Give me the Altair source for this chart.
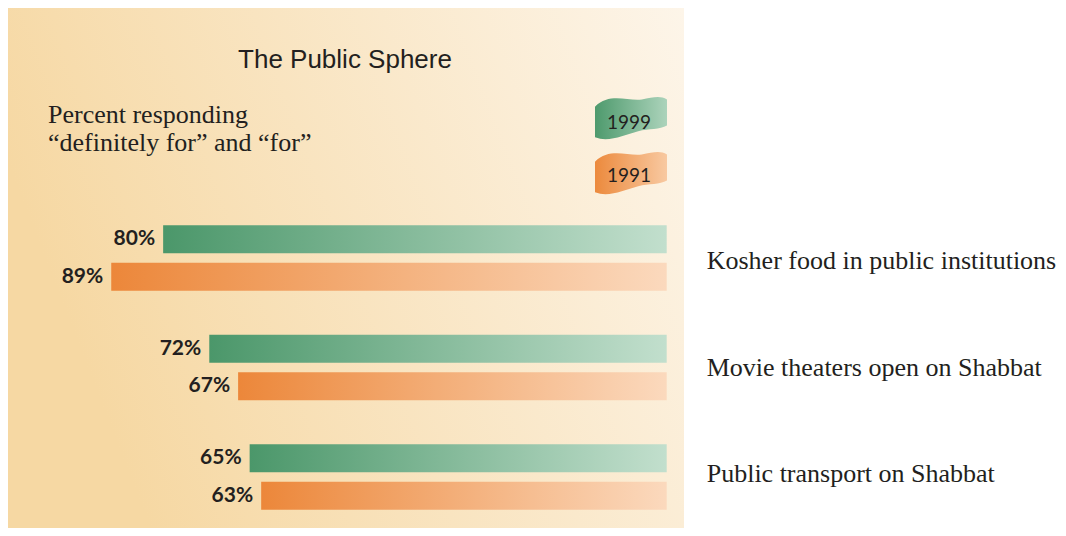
import altair as alt
import pandas as pd

categories = ["Kosher food in public institutions",
              "Movie theaters open on Shabbat",
              "Public transport on Shabbat"]
years = ["1999", "1991"]
values_1999 = [80, 72, 65]
values_1991 = [89, 67, 63]
bar_base = -7.32
title_text = "The Public Sphere"
subtitle_text = "Percent responding\n\u201cdefinitely for\u201d and \u201cfor\u201d"

rows = []
for c, a, b in zip(categories, values_1999, values_1991):
    rows.append({"category": c, "year": "1999", "value": a, "label": f"{a}%"})
    rows.append({"category": c, "year": "1991", "value": b, "label": f"{b}%"})
df = pd.DataFrame(rows)
df_cat = pd.DataFrame({"category": categories})
df_one = pd.DataFrame({"k": [0]})


def grad(c1, c2, x1=0, x2=1, y1=0, y2=0):
    return alt.Gradient(gradient="linear",
                        stops=[alt.GradientStop(color=c1, offset=0),
                               alt.GradientStop(color=c2, offset=1)],
                        x1=x1, x2=x2, y1=y1, y2=y2)


W, H = 1050, 520
xscale = alt.Scale(domain=[bar_base, 100], range=[658.7, 39.8])
yscale = alt.Scale(domain=categories, range=[195.2, 523.7], paddingInner=0, paddingOuter=0)
yoff = alt.Scale(domain=years, range=[22, 87.6], paddingInner=0.255, paddingOuter=0)

X = alt.X("value:Q", scale=xscale, axis=None)
X2 = alt.X2(datum=bar_base)
Y = alt.Y("category:N", scale=yscale, axis=None, sort=categories)
YO = alt.YOffset("year:N", scale=yoff, sort=years)

panel = alt.Chart(df_one).mark_rect(fill=grad("#f6d8a3", "#fdf5e9", 0, 1, 0.3, 0)).encode(
    x=alt.value(0), x2=alt.value(676), y=alt.value(0), y2=alt.value(H)
)

green_bars = alt.Chart(df).transform_filter(alt.datum.year == "1999").mark_bar(
    fill=grad("#4b976a", "#c2dfcd")
).encode(x=X, x2=X2, y=Y, yOffset=YO)

orange_bars = alt.Chart(df).transform_filter(alt.datum.year == "1991").mark_bar(
    fill=grad("#ec873a", "#fbd9bd")
).encode(x=X, x2=X2, y=Y, yOffset=YO)

value_labels = alt.Chart(df).mark_text(
    align="right", baseline="middle", dx=-8, font="Lato", fontWeight="bold",
    fontSize=21, color="#231f20"
).encode(x=X, y=Y, yOffset=YO, text="label:N")

cat_labels = alt.Chart(df_cat).mark_text(
    align="left", baseline="alphabetic", font="Liberation Serif",
    fontSize=26, color="#231f20"
).encode(
    x=alt.value(698.7),
    y=alt.Y("category:N", sort=categories, axis=None,
            scale=alt.Scale(domain=categories, type="point", range=[261.3, 474.3], padding=0)),
    text="category:N",
)

title = alt.Chart(df_one).mark_text(
    align="center", baseline="alphabetic", font="Liberation Sans", fontSize=26,
    color="#231f20", text=title_text
).encode(x=alt.value(337), y=alt.value(60.3))

subtitle = alt.Chart(df_one).mark_text(
    align="left", baseline="alphabetic", font="Liberation Serif", fontSize=26,
    color="#231f20", text=subtitle_text, lineBreak="\n", lineHeight=28
).encode(x=alt.value(40), y=alt.value(115))

flag_path = ("M -1,-0.3 C -0.6,-0.7 -0.1,-0.45 0.3,-0.5 C 0.6,-0.55 0.8,-0.62 1,-0.5 "
             "L 1,0.22 C 0.8,0.34 0.5,0.3 0.2,0.38 C -0.2,0.48 -0.6,0.7 -1,0.55 Z")

flag_1999 = alt.Chart(df_one).mark_point(
    shape=flag_path, size=5184, filled=True, opacity=1, strokeWidth=0,
    fill=grad("#4e9a6d", "#acd3bb")
).encode(x=alt.value(623), y=alt.value(109.5))
flag_1991 = alt.Chart(df_one).mark_point(
    shape=flag_path, size=5184, filled=True, opacity=1, strokeWidth=0,
    fill=grad("#ec8a3d", "#f8c9a1")
).encode(x=alt.value(623), y=alt.value(164.5))

flag_text = alt.Chart(pd.DataFrame({"year": years})).mark_text(
    align="center", baseline="alphabetic", font="Lato", fontSize=19, color="#231f20"
).encode(
    x=alt.value(621),
    y=alt.Y("year:N", scale=alt.Scale(domain=years, range=[121.3, 174.3], type="point", padding=0), axis=None, sort=years),
    text="year:N",
)

chart = alt.layer(
    panel, green_bars, orange_bars, value_labels, cat_labels, title, subtitle,
    flag_1999, flag_1991, flag_text
).resolve_scale(y="independent").properties(
    width=W, height=H, padding=0, autosize="none", background="white"
).configure_view(stroke=None)

chart.save("out.html", embed_options={"renderer": "svg", "actions": False})
